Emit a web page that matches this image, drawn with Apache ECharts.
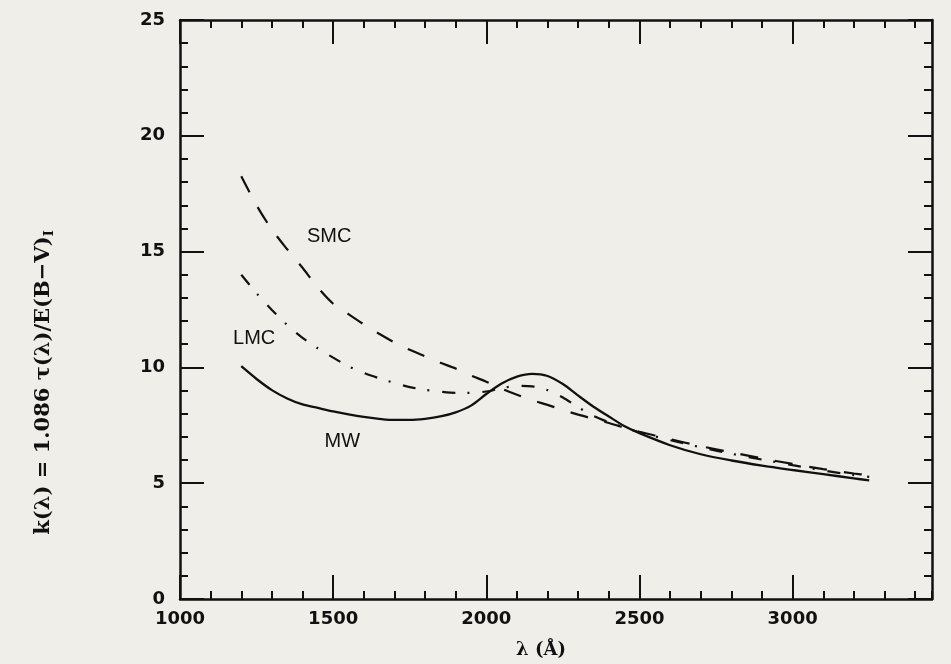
<!DOCTYPE html>
<html>
<head>
<meta charset="utf-8">
<script src="https://cdn.jsdelivr.net/npm/echarts@6/dist/echarts.min.js"></script>
<style>
  html, body { margin: 0; padding: 0; background: #f0eee9; }
  #chart { width: 951px; height: 664px; }
</style>
</head>
<body>
<div id="chart"></div>
<script>
// Wavelength grid (Angstrom) shared by the three extinction curves
const wavelengths = [1200, 1250, 1300, 1350, 1400, 1450, 1500, 1550, 1600, 1650, 1700, 1750,
  1800, 1850, 1900, 1950, 2000, 2050, 2100, 2150, 2200, 2250, 2300, 2350, 2400, 2450, 2500,
  2600, 2700, 2800, 2900, 3000, 3100, 3200, 3250];

// Milky Way curve (solid)
const mwValues = [10.05, 9.50, 9.02, 8.66, 8.40, 8.25, 8.10, 7.97, 7.86, 7.78, 7.73, 7.73,
  7.78, 7.88, 8.06, 8.35, 8.85, 9.30, 9.60, 9.72, 9.63, 9.28, 8.78, 8.30, 7.88, 7.47, 7.16,
  6.64, 6.25, 5.98, 5.76, 5.57, 5.39, 5.21, 5.12];

// Small Magellanic Cloud curve (dashed)
const smcValues = [18.25, 17.0, 15.95, 15.1, 14.3, 13.45, 12.75, 12.3, 11.86, 11.45, 11.08, 10.76,
  10.48, 10.2, 9.95, 9.65, 9.38, 9.08, 8.82, 8.58, 8.38, 8.16, 7.96, 7.78, 7.6, 7.4, 7.22,
  6.9, 6.6, 6.33, 6.07, 5.83, 5.61, 5.42, 5.34];

// Large Magellanic Cloud curve (dash-dot)
const lmcValues = [14.0, 13.2, 12.48, 11.83, 11.28, 10.82, 10.42, 10.05, 9.76, 9.53, 9.33, 9.15,
  9.03, 8.95, 8.9, 8.9, 8.96, 9.1, 9.2, 9.18, 9.02, 8.7, 8.28, 7.9, 7.63, 7.41, 7.2,
  6.86, 6.55, 6.27, 6.02, 5.78, 5.55, 5.35, 5.27];

// Curve names and where they sit in data coordinates
const curveNames = ['MW', 'SMC', 'LMC'];
const nameSpots = [[1530, 6.8], [1487, 15.66], [1242, 11.27]];

const ink = '#111111';
const tickFont = { fontFamily: 'DejaVu Sans', fontWeight: 'bold', fontSize: 18, color: ink };

function pairs(vals) {
  return wavelengths.map((w, i) => [w, vals[i]]);
}

function curveLabel(i) {
  return {
    symbol: 'circle',
    symbolSize: 0,
    silent: true,
    label: {
      show: true, position: 'inside', formatter: curveNames[i],
      fontFamily: 'Liberation Sans', fontSize: 20, color: ink
    },
    data: [{ coord: nameSpots[i] }]
  };
}

const xMin = 1000, xMax = 3455;

function xAxisDef(pos, major, withLabels, withLine) {
  return {
    type: 'value', position: pos, min: xMin, max: xMax,
    interval: major ? 500 : 100,
    axisLine: { show: withLine, onZero: false, lineStyle: { color: ink, width: 2.5 } },
    axisTick: { show: true, inside: true, length: major ? 24 : 8, lineStyle: { color: ink, width: 2 } },
    axisLabel: withLabels ? Object.assign({
      show: true, margin: 11, showMaxLabel: false,
      formatter: v => (v % 500 === 0 ? String(v) : '')
    }, tickFont) : { show: false },
    splitLine: { show: false }
  };
}

function yAxisDef(pos, withLabels) {
  return {
    type: 'value', position: pos, min: 0, max: 25, interval: 5,
    axisLine: { show: true, onZero: false, lineStyle: { color: ink, width: 2.5 } },
    axisTick: { show: true, inside: true, length: 24, lineStyle: { color: ink, width: 2 } },
    minorTick: { show: true, splitNumber: 5, length: 8, lineStyle: { color: ink, width: 2 } },
    axisLabel: withLabels ? Object.assign({ show: true, margin: 15 }, tickFont) : { show: false },
    splitLine: { show: false },
    minorSplitLine: { show: false }
  };
}

const xBottom = xAxisDef('bottom', true, true, true);
xBottom.name = 'λ (Å)';
xBottom.nameLocation = 'middle';
xBottom.nameGap = 42;
xBottom.nameTextStyle = { fontFamily: 'DejaVu Serif', fontWeight: 'bold', fontSize: 18, color: ink, padding: [0, 30, 0, 0] };

const yLeft = yAxisDef('left', true);
yLeft.name = 'k(λ) = 1.086 τ(λ)/E(B−V){sub|I}';
yLeft.nameLocation = 'middle';
yLeft.nameGap = 124;
yLeft.nameTextStyle = {
  fontFamily: 'DejaVu Serif', fontWeight: 'bold', fontSize: 21, color: ink,
  padding: [0, 146, 0, 0],
  rich: { sub: { fontFamily: 'DejaVu Serif', fontWeight: 'bold', fontSize: 13, color: ink, padding: [11, 0, 0, 0] } }
};

const option = {
  backgroundColor: '#f0eee9',
  animation: false,
  grid: { left: 180, right: 19, top: 20, bottom: 63, containLabel: false },
  xAxis: [
    xBottom,
    xAxisDef('bottom', false, false, false),
    xAxisDef('top', true, false, true),
    xAxisDef('top', false, false, false)
  ],
  yAxis: [yLeft, yAxisDef('right', false)],
  series: [
    {
      name: 'MW', type: 'line', xAxisIndex: 0, yAxisIndex: 0,
      data: pairs(mwValues), showSymbol: false, smooth: 0.3,
      lineStyle: { color: ink, width: 2.3, type: 'solid' },
      markPoint: curveLabel(0)
    },
    {
      name: 'SMC', type: 'line', xAxisIndex: 0, yAxisIndex: 0,
      data: pairs(smcValues), showSymbol: false, smooth: 0.3,
      lineStyle: { color: ink, width: 2.2, type: [18, 17] },
      markPoint: curveLabel(1)
    },
    {
      name: 'LMC', type: 'line', xAxisIndex: 0, yAxisIndex: 0,
      data: pairs(lmcValues), showSymbol: false, smooth: 0.3,
      lineStyle: { color: ink, width: 2.2, type: [13, 12, 2, 13] },
      markPoint: curveLabel(2)
    }
  ]
};

const chart = echarts.init(document.getElementById('chart'), null, { renderer: 'canvas' });
chart.setOption(option);
</script>
</body>
</html>
